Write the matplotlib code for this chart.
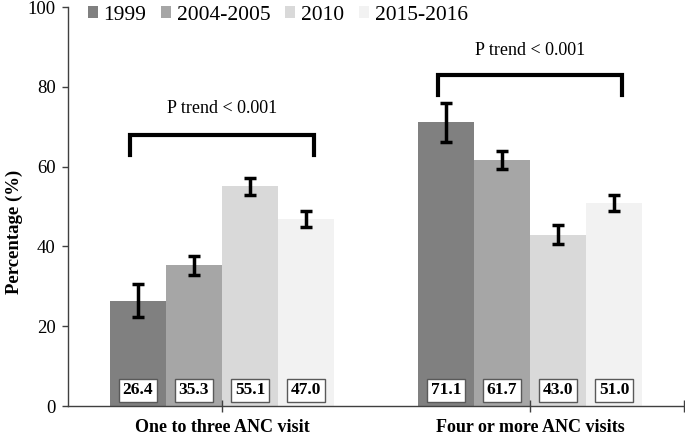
import matplotlib.pyplot as plt
import numpy as np

plt.rcParams['font.family'] = ['Liberation Serif', 'DejaVu Serif']

groups = ['One to three ANC visit', 'Four or more ANC visits']
years = ['1999', '2004-2005', '2010', '2015-2016']
colors = ['#808080', '#a6a6a6', '#d9d9d9', '#f2f2f2']
values = [[26.4, 71.1], [35.3, 61.7], [55.1, 43.0], [47.0, 51.0]]
errors = [[4.2, 4.8], [2.4, 2.3], [2.1, 2.3], [2.0, 2.0]]
trend_text = 'P trend < 0.001'
bracket_top = [68, 83]
bracket_leg = [63, 78]
trend_y = [74.6, 89.2]

fig = plt.figure(figsize=(6.85, 4.34), dpi=100)
ax = fig.add_axes([0.0993, 0.0645, 0.899, 0.919])

x = np.arange(len(groups))
w = 0.182
for i, yr in enumerate(years):
    pos = x + (i - 1.5) * w
    ax.bar(pos, values[i], w, color=colors[i], label=yr, zorder=1)
    ax.errorbar(pos, values[i], yerr=errors[i], fmt='none', ecolor='black',
                elinewidth=2.5, capsize=4.5, capthick=2.5, zorder=3)
    for p, v in zip(pos, values[i]):
        ax.text(p, 3.9, f'{v:.1f}', ha='center', va='center', fontsize=12.5,
                fontweight='bold', zorder=4,
                bbox=dict(boxstyle='square,pad=0.22', fc='white', ec='#595959', lw=1))

for g in range(len(groups)):
    x0, x1 = x[g] - 0.3, x[g] + 0.3
    ax.plot([x0, x0, x1, x1], [bracket_leg[g], bracket_top[g], bracket_top[g], bracket_leg[g]],
            color='black', lw=3, solid_joinstyle='miter', zorder=3)
    ax.text(x[g], trend_y[g], trend_text, ha='center', va='center', fontsize=13)

ax.set_xlim(-0.5, 1.5)
ax.set_ylim(0, 100)
ax.set_yticks([0, 20, 40, 60, 80, 100])
ax.tick_params(axis='y', labelsize=13.5, length=4, width=1, color='#404040', pad=5)
ax.set_xticks(x)
ax.set_xticklabels(groups, fontsize=13, fontweight='bold')
ax.set_xticks([1.5], minor=True)
ax.tick_params(axis='x', which='both', direction='inout', length=8, width=1,
               color='#404040', pad=5)
ax.set_ylabel('Percentage (%)', fontsize=13.5, fontweight='bold')
ax.yaxis.set_label_coords(-0.073, 0.436)
for s in ['top', 'right']:
    ax.spines[s].set_visible(False)
for s in ['left', 'bottom']:
    ax.spines[s].set_color('#404040')
    ax.spines[s].set_linewidth(1)

ax.legend(loc='center left', bbox_to_anchor=(0.032, 0.98), ncol=4, frameon=False,
          fontsize=15.5, handlelength=0.47, handleheight=0.47, handletextpad=0.25,
          columnspacing=0.7, borderaxespad=0, borderpad=0)

fig.savefig('out.png', dpi=100)
